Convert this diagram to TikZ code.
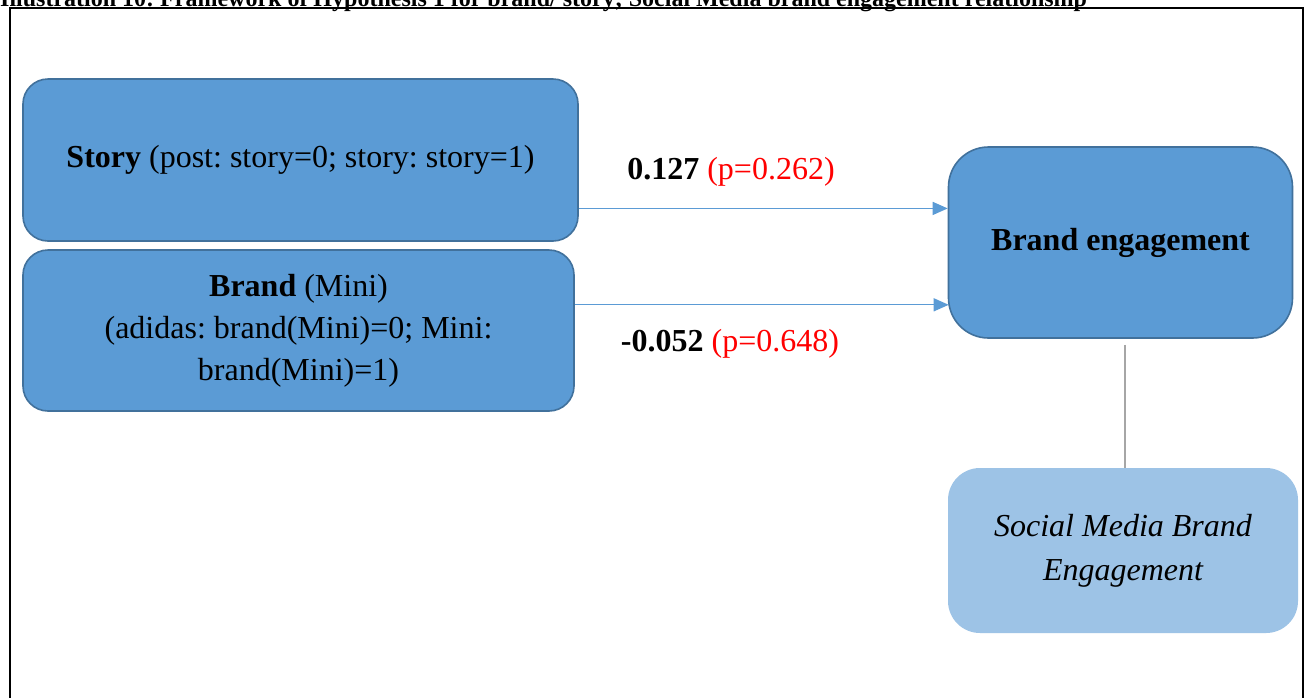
\documentclass[tikz,border=0pt]{standalone}
\usepackage{fontspec}
\setmainfont{Liberation Serif}
\usetikzlibrary{calc,arrows.meta}
\definecolor{boxfill}{HTML}{5B9BD5}
\definecolor{boxline}{HTML}{41719C}
\definecolor{lightfill}{HTML}{9DC3E6}
\definecolor{pred}{HTML}{FF0000}
\definecolor{conngray}{HTML}{A6A6A6}
\frenchspacing
\tikzset{
  mainbox/.style={draw=boxline, line width=1.6pt, fill=boxfill, rounded corners=25pt,
    align=center, inner sep=0pt, font=\fontsize{32}{42}\selectfont},
  softbox/.style={fill=lightfill, rounded corners=32pt, align=center, inner sep=0pt,
    font=\fontsize{32}{44}\selectfont\itshape},
  arr/.style={draw=boxfill, line width=1.3pt, -{Triangle[length=15pt,width=13pt]}},
  conn/.style={draw=conngray, line width=1.2pt},
  lbl/.style={font=\fontsize{32}{40}\selectfont, inner sep=0pt},
}
\begin{document}
\begin{tikzpicture}[x=1pt,y=-1pt]
\useasboundingbox (0,0) rectangle (1309,697);
\clip (0,0) rectangle (1309,697);
\fill[white] (0,0) rectangle (1309,697);
% title (cut off at top, as in the reference)
\node[anchor=base west, inner sep=0pt, font=\fontsize{24}{26}\selectfont\bfseries] (title) at (0,6)
  {Illustration 10: Framework of Hypothesis 1 for brand/ story; Social Media brand engagement relationship};
% frame
\draw[line width=1.8pt] (10,8) rectangle (1303,720);
% boxes
\node[mainbox, minimum width=555pt, minimum height=162pt] (story) at (300.5,160)
  {\textbf{Story} (post: story=0; story: story=1)};
\node[mainbox, minimum width=551pt, minimum height=161pt] (brand) at (298.5,330.5)
  {\textbf{Brand} (Mini)\\(adidas: brand(Mini)=0; Mini:\\brand(Mini)=1)};
\node[mainbox, rounded corners=40pt, minimum width=344pt, minimum height=191pt] (be) at (1120.5,242.5)
  {\textbf{Brand engagement}};
\node[softbox, minimum width=350pt, minimum height=165pt] (sm) at (1123,550.5)
  {Social Media Brand\\Engagement};
% connectors
\coordinate (s1) at ($(story.north east)!0.796!(story.south east)$);
\coordinate (b1) at ($(brand.north east)!0.342!(brand.south east)$);
\draw[arr] (s1) -- (be.west |- s1);
\draw[arr] (b1) -- ([xshift=1pt]be.west |- b1);
\draw[conn] ([xshift=2pt,yshift=-6pt]be.south -| sm.north) -- ([xshift=2pt]sm.north);
% labels
\node[lbl] (l1) at (731,172) {\textbf{0.127} \textcolor{pred}{(p=0.262)}};
\node[lbl] (l2) at (730,344) {\textbf{-0.052} \textcolor{pred}{(p=0.648)}};
\end{tikzpicture}
\end{document}
